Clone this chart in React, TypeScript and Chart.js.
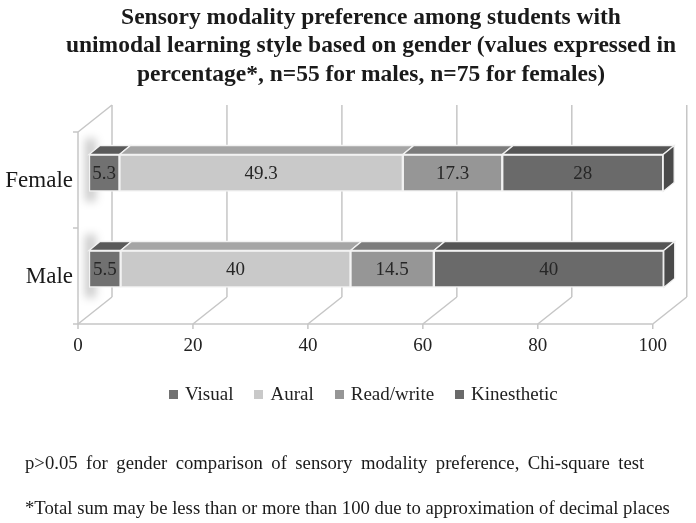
import React, { useEffect, useRef } from 'react';
import { Chart, registerables } from 'chart.js';

Chart.register(...registerables);

const categories = ['Female', 'Male'];
const seriesNames = ['Visual', 'Aural', 'Read/write', 'Kinesthetic'];
const visualValues = [5.3, 5.5];
const auralValues = [49.3, 40];
const readWriteValues = [17.3, 14.5];
const kinestheticValues = [28, 40];
const xMin = 0;
const xMax = 100;
const xStep = 20;

const titleLines = [
  'Sensory modality preference among students with',
  'unimodal learning style based on gender (values expressed in',
  'percentage*, n=55 for males, n=75 for females)',
];
const footnotes = [
  'p>0.05 for gender comparison of sensory modality preference, Chi-square test',
  '*Total sum may be less than or more than 100 due to approximation of decimal places',
];

const frontColors = ['#717171', '#c9c9c9', '#969696', '#6a6a6a'];
const topColors = ['#5a5a5a', '#a5a5a5', '#7b7b7b', '#555555'];
const sideColor = '#4a4a4a';
const wallColor = '#c6c6c6';
const SERIF = '"Liberation Serif", "Times New Roman", serif';

// depth geometry (relative to the bar plane)
const FRONT_DX = -11;
const FRONT_DY = 7;
const BACK_DX = 23;
const BACK_DY = -20;
const BAR_DX = 11;
const BAR_DY = -9;

const depthPlugin = {
  id: 'depth3d',
  beforeDatasetsDraw(chart: any) {
    const { ctx, chartArea, scales } = chart;
    const xs = scales.x;
    const ys = scales.y;
    const top = chartArea.top;
    const bot = chartArea.bottom;
    const p0 = xs.getPixelForValue(xMin);
    const p100 = xs.getPixelForValue(xMax);
    const line = (x1: number, y1: number, x2: number, y2: number) => {
      ctx.beginPath();
      ctx.moveTo(x1, y1);
      ctx.lineTo(x2, y2);
      ctx.stroke();
    };
    ctx.save();
    // soft shadows on the left wall
    ctx.filter = 'blur(4px)';
    ctx.fillStyle = 'rgba(0,0,0,0.2)';
    chart.getDatasetMeta(0).data.forEach((bar: any) => {
      const h = bar.height;
      ctx.fillRect(p0 - 4, bar.y - h / 2 - 16, 11, h + 26);
    });
    ctx.filter = 'none';
    ctx.strokeStyle = wallColor;
    ctx.lineWidth = 1.5;
    for (let v = xMin; v <= xMax; v += xStep) {
      const px = xs.getPixelForValue(v);
      line(px + FRONT_DX, bot + FRONT_DY, px + BACK_DX, bot + BACK_DY);
      line(px + BACK_DX, bot + BACK_DY, px + BACK_DX, top + BACK_DY);
      line(px + FRONT_DX, bot + FRONT_DY, px + FRONT_DX, bot + FRONT_DY + 5);
    }
    line(p0 + FRONT_DX, bot + FRONT_DY, p100 + FRONT_DX, bot + FRONT_DY);
    line(p0 + FRONT_DX, top + FRONT_DY, p0 + FRONT_DX, bot + FRONT_DY);
    line(p0 + FRONT_DX, top + FRONT_DY, p0 + BACK_DX, top + BACK_DY);
    const mid = (ys.getPixelForValue(0) + ys.getPixelForValue(1)) / 2;
    [top, mid, bot].forEach((b) => line(p0 + FRONT_DX - 5, b + FRONT_DY, p0 + FRONT_DX, b + FRONT_DY));
    ctx.restore();
  },
  afterDatasetsDraw(chart: any) {
    const { ctx } = chart;
    const n = chart.data.datasets.length;
    ctx.save();
    ctx.strokeStyle = '#f2f2f2';
    ctx.lineWidth = 1.3;
    for (let i = 0; i < n; i++) {
      const meta = chart.getDatasetMeta(i);
      meta.data.forEach((bar: any) => {
        const x0 = Math.min(bar.base, bar.x);
        const x1 = Math.max(bar.base, bar.x);
        const yT = bar.y - bar.height / 2;
        const yB = bar.y + bar.height / 2;
        ctx.fillStyle = topColors[i];
        ctx.beginPath();
        ctx.moveTo(x0, yT);
        ctx.lineTo(x1, yT);
        ctx.lineTo(x1 + BAR_DX, yT + BAR_DY);
        ctx.lineTo(x0 + BAR_DX, yT + BAR_DY);
        ctx.closePath();
        ctx.fill();
        ctx.stroke();
        if (i === n - 1) {
          ctx.fillStyle = sideColor;
          ctx.beginPath();
          ctx.moveTo(x1, yT);
          ctx.lineTo(x1 + BAR_DX, yT + BAR_DY);
          ctx.lineTo(x1 + BAR_DX, yB + BAR_DY);
          ctx.lineTo(x1, yB);
          ctx.closePath();
          ctx.fill();
          ctx.stroke();
        }
      });
    }
    // value labels
    ctx.fillStyle = '#262626';
    ctx.font = `19px ${SERIF}`;
    ctx.textAlign = 'center';
    ctx.textBaseline = 'middle';
    for (let i = 0; i < n; i++) {
      const meta = chart.getDatasetMeta(i);
      const values = chart.data.datasets[i].data;
      meta.data.forEach((bar: any, j: number) => {
        const cx = (bar.base + bar.x) / 2;
        ctx.fillText(String(values[j]), cx, bar.y + 1);
      });
    }
    ctx.restore();
  },
};

export default function App() {
  const canvasRef = useRef<HTMLCanvasElement | null>(null);

  useEffect(() => {
    document.body.style.margin = '0';
    const canvas = canvasRef.current;
    if (!canvas) return;
    const seriesValues = [visualValues, auralValues, readWriteValues, kinestheticValues];
    const chart = new Chart(canvas, {
      type: 'bar',
      data: {
        labels: categories,
        datasets: seriesNames.map((name, i) => ({
          label: name,
          data: seriesValues[i],
          backgroundColor: frontColors[i],
          borderColor: '#f2f2f2',
          borderWidth: 1.5,
          borderSkipped: false,
          barThickness: 37,
        })),
      },
      options: {
        indexAxis: 'y',
        responsive: false,
        animation: false,
        devicePixelRatio: 1,
        layout: { padding: { left: 0, right: 28, top: 125, bottom: 156 } },
        scales: {
          x: {
            type: 'linear',
            stacked: true,
            min: xMin,
            max: xMax,
            grid: { display: false, drawTicks: false },
            border: { display: false },
            ticks: {
              stepSize: xStep,
              padding: 18,
              labelOffset: FRONT_DX,
              color: '#222',
              font: { family: SERIF, size: 19 },
            },
            afterFit: (s: any) => {
              s.height = 50;
            },
          },
          y: {
            stacked: true,
            grid: { display: false, drawTicks: false },
            border: { display: false },
            ticks: {
              padding: 16,
              labelOffset: 8,
              color: '#1a1a1a',
              font: { family: SERIF, size: 23 },
            },
            afterFit: (s: any) => {
              s.width = 89;
            },
          },
        },
        plugins: {
          title: { display: false },
          tooltip: { enabled: false },
          legend: { display: false },
        },
      },
      plugins: [depthPlugin],
    });
    return () => chart.destroy();
  }, []);

  const legendGaps = [21, 21, 21, 0];

  return (
    <div style={{ position: 'absolute', left: 0, top: 0, width: 696, height: 523, background: '#fff', overflow: 'hidden' }}>
      <canvas ref={canvasRef} width={696} height={523} style={{ position: 'absolute', left: 0, top: 0, width: 696, height: 523 }} />
      <div
        style={{
          position: 'absolute',
          left: 23,
          top: 2,
          width: 696,
          textAlign: 'center',
          fontFamily: SERIF,
          fontWeight: 'bold',
          fontSize: 23.5,
          lineHeight: '28.3px',
          color: '#1a1a1a',
          whiteSpace: 'nowrap',
        }}
      >
        {titleLines.map((t, i) => (
          <div key={i}>{t}</div>
        ))}
      </div>
      <div
        style={{
          position: 'absolute',
          left: 169,
          top: 383,
          display: 'flex',
          alignItems: 'center',
          fontFamily: SERIF,
          fontSize: 19,
          lineHeight: '22px',
          color: '#222',
          whiteSpace: 'nowrap',
        }}
      >
        {seriesNames.map((name, i) => (
          <div key={name} style={{ display: 'flex', alignItems: 'center', marginRight: legendGaps[i] }}>
            <span style={{ display: 'inline-block', width: 9, height: 9, background: frontColors[i], marginRight: 7 }} />
            <span>{name}</span>
          </div>
        ))}
      </div>
      <div
        style={{
          position: 'absolute',
          left: 25,
          top: 440,
          fontFamily: SERIF,
          fontSize: 18.7,
          lineHeight: '45px',
          color: '#1a1a1a',
          whiteSpace: 'nowrap',
        }}
      >
        <div style={{ wordSpacing: '3.8px' }}>{footnotes[0]}</div>
        <div>{footnotes[1]}</div>
      </div>
    </div>
  );
}
